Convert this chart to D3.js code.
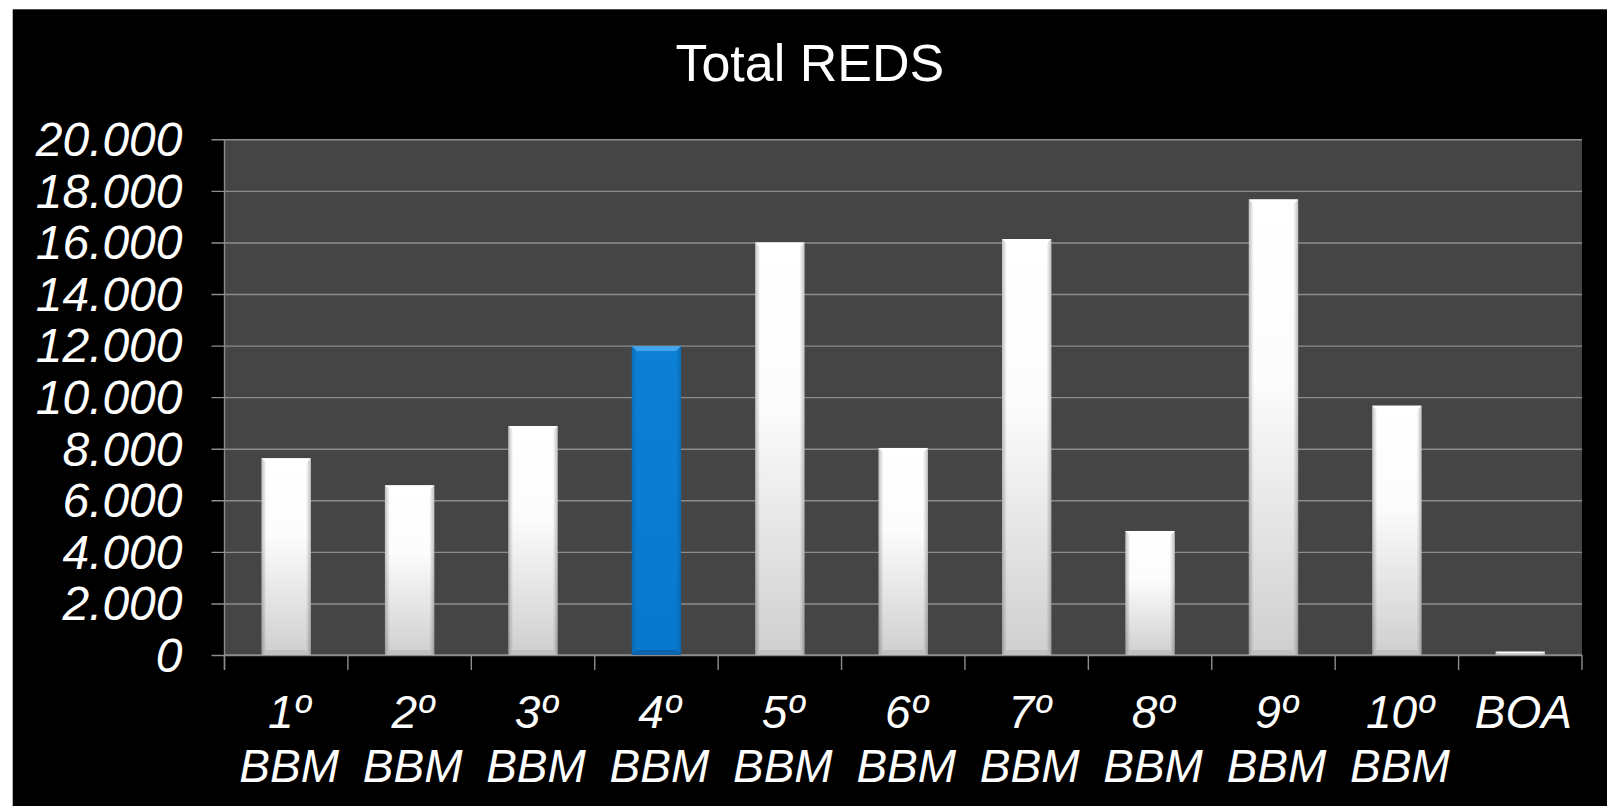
<!DOCTYPE html>
<html>
<head>
<meta charset="utf-8">
<script src="https://cdnjs.cloudflare.com/ajax/libs/d3/7.8.5/d3.min.js"></script>
<style>
  body { margin: 0; background: #fff; }
  svg { display: block; }
</style>
</head>
<body>
<div id="chart"></div>
<script>
// data
var title = 'Total REDS';
var categories = ['1º|BBM', '2º|BBM', '3º|BBM', '4º|BBM', '5º|BBM', '6º|BBM', '7º|BBM', '8º|BBM', '9º|BBM', '10º|BBM', 'BOA'];
var values = [7630, 6580, 8880, 11980, 16000, 8030, 16130, 4810, 17670, 9670, 130];
var highlight = ['4º|BBM'];
var yTicks = [0, 2000, 4000, 6000, 8000, 10000, 12000, 14000, 16000, 18000, 20000];

var W = 1607, H = 806;
var margin = {top: 139.3, left: 224.5, right: 25, bottom: 151};
var width = W - margin.left - margin.right;
var height = H - margin.top - margin.bottom;

var svg = d3.select('#chart')
    .append('svg')
    .attr('width', W)
    .attr('height', H);

var defs = svg.append('defs');

// bar gradients
var gv = defs.append('linearGradient').attr('id', 'whiteV').attr('x1', 0).attr('y1', 0).attr('x2', 0).attr('y2', 1);
gv.append('stop').attr('offset', '0%').attr('stop-color', '#ffffff');
gv.append('stop').attr('offset', '40%').attr('stop-color', '#fcfcfc');
gv.append('stop').attr('offset', '100%').attr('stop-color', '#cfcfcf');

var gh = defs.append('linearGradient').attr('id', 'edgeH').attr('x1', 0).attr('y1', 0).attr('x2', 1).attr('y2', 0);
gh.append('stop').attr('offset', '0%').attr('stop-color', '#000').attr('stop-opacity', 0.25);
gh.append('stop').attr('offset', '10%').attr('stop-color', '#000').attr('stop-opacity', 0);
gh.append('stop').attr('offset', '90%').attr('stop-color', '#000').attr('stop-opacity', 0);
gh.append('stop').attr('offset', '100%').attr('stop-color', '#000').attr('stop-opacity', 0.25);

var gb = defs.append('linearGradient').attr('id', 'blueV').attr('x1', 0).attr('y1', 0).attr('x2', 0).attr('y2', 1);
gb.append('stop').attr('offset', '0%').attr('stop-color', '#0c80d6');
gb.append('stop').attr('offset', '100%').attr('stop-color', '#0878cc');

// black background
svg.append('rect')
    .attr('x', 12.7).attr('y', 9.3)
    .attr('width', W - 12.7).attr('height', H - 9.3)
    .attr('fill', '#000');

var g = svg.append('g')
    .attr('transform', 'translate(' + margin.left + ',' + margin.top + ')');

var x = d3.scaleBand()
    .domain(categories)
    .range([0, width])
    .paddingInner(0.6)
    .paddingOuter(0.3);

var y = d3.scaleLinear()
    .domain([0, 20000])
    .range([height, 0]);

// plot area
g.append('rect')
    .attr('width', width)
    .attr('height', height)
    .attr('fill', '#454545');

// grid + y axis
g.append('g')
    .attr('class', 'grid-lines')
    .call(d3.axisLeft(y)
        .tickValues(yTicks)
        .tickSize(-width)
        .tickFormat(function(d) { return d3.format(',')(d).replace(/,/g, '.'); })
    )
    .call(function(a) {
        a.select('.domain').remove();
        a.selectAll('.tick line')
            .attr('x1', -13)
            .attr('stroke', '#8c8c8c')
            .attr('stroke-width', 1.4);
        a.selectAll('.tick text')
            .attr('x', -42)
            .attr('dy', '0.34em')
            .attr('fill', '#fff')
            .style('font-family', '"Liberation Sans", Arial, sans-serif')
            .style('font-style', 'italic')
            .style('font-size', '48px');
    });

// left axis line
g.append('line')
    .attr('x1', 0).attr('x2', 0)
    .attr('y1', 0).attr('y2', height + 15)
    .attr('stroke', '#8c8c8c').attr('stroke-width', 1.4);

// x axis line + tick marks between categories
g.append('line')
    .attr('x1', 0).attr('x2', width)
    .attr('y1', height).attr('y2', height)
    .attr('stroke', '#8c8c8c').attr('stroke-width', 1.4);

var step = x.step();
g.selectAll('line.xtick')
    .data(categories.concat(['end']))
    .enter()
    .append('line')
    .attr('class', 'xtick')
    .attr('x1', function(d, i) { return i * step; })
    .attr('x2', function(d, i) { return i * step; })
    .attr('y1', height)
    .attr('y2', height + 15)
    .attr('stroke', '#8c8c8c').attr('stroke-width', 1.4);

// bars
var bars = g.selectAll('g.bar')
    .data(categories.map(function(c, i) { return {cat: c, val: values[i]}; }))
    .enter()
    .append('g')
    .attr('class', 'bar');

function isHi(d) { return highlight.indexOf(d.cat) >= 0; }

bars.append('rect')
    .attr('x', function(d) { return x(d.cat); })
    .attr('y', function(d) { return y(d.val); })
    .attr('width', x.bandwidth())
    .attr('height', function(d) { return height - y(d.val); })
    .attr('fill', function(d) { return isHi(d) ? 'url(#blueV)' : 'url(#whiteV)'; });

bars.append('rect')
    .attr('x', function(d) { return x(d.cat); })
    .attr('y', function(d) { return y(d.val); })
    .attr('width', x.bandwidth())
    .attr('height', function(d) { return height - y(d.val); })
    .attr('fill', 'url(#edgeH)')
    .attr('opacity', function(d) { return isHi(d) ? 0.6 : 1; });

// top bevel
var bev = 5;
bars.append('path')
    .attr('d', function(d) {
        var x0 = x(d.cat), x1 = x0 + x.bandwidth(), y0 = y(d.val);
        var b = Math.min(bev, (height - y0) / 2);
        return 'M' + x0 + ',' + y0 + 'L' + x1 + ',' + y0 + 'L' + (x1 - b) + ',' + (y0 + b) + 'L' + (x0 + b) + ',' + (y0 + b) + 'Z';
    })
    .attr('fill', function(d) { return isHi(d) ? '#4aa8ec' : '#ffffff'; })
    .attr('opacity', 0.9);

// bottom bevel
bars.append('path')
    .attr('d', function(d) {
        var x0 = x(d.cat), x1 = x0 + x.bandwidth(), y0 = y(d.val), yb = height;
        var b = Math.min(bev, (height - y0) / 2);
        return 'M' + x0 + ',' + yb + 'L' + x1 + ',' + yb + 'L' + (x1 - b) + ',' + (yb - b) + 'L' + (x0 + b) + ',' + (yb - b) + 'Z';
    })
    .attr('fill', function(d) { return isHi(d) ? '#065fa3' : '#bdbdbd'; })
    .attr('opacity', 0.8);

// x labels
var xl = g.selectAll('text.xlabel')
    .data(categories)
    .enter()
    .append('text')
    .attr('class', 'xlabel')
    .attr('text-anchor', 'middle')
    .attr('fill', '#fff')
    .style('font-family', '"Liberation Sans", Arial, sans-serif')
    .style('font-style', 'italic')
    .style('font-size', '46px');

xl.each(function(d) {
    var parts = d.split('|');
    var t = d3.select(this);
    parts.forEach(function(p, i) {
        t.append('tspan')
            .attr('x', x(d) + x.bandwidth() / 2 + 3)
            .attr('y', height + 73 + i * 54)
            .text(p);
    });
});

// title
svg.append('text')
    .attr('x', (12.7 + W) / 2)
    .attr('y', 81)
    .attr('text-anchor', 'middle')
    .attr('fill', '#fff')
    .style('font-family', '"Liberation Sans", Arial, sans-serif')
    .style('font-size', '52px')
    .text(title);
</script>
</body>
</html>
